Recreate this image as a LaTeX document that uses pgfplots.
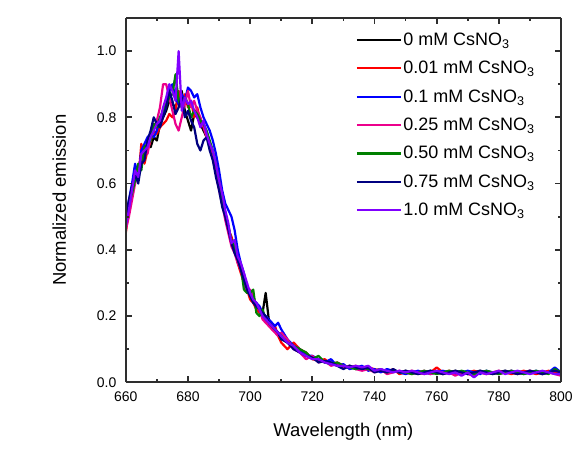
\documentclass[border=0pt]{standalone}
\usepackage{fontspec}
\setmainfont{Liberation Sans}
\usepackage{pgfplots}
\usepackage{pgfplotstable}
\pgfplotsset{compat=1.18}
\definecolor{cnavy}{RGB}{0,0,128}
\definecolor{cgreen}{RGB}{0,128,0}
\definecolor{cviolet}{RGB}{128,0,255}
\pgfplotstableread{
x k r b m g n v
660 0.47 0.45 0.49 0.46 0.48 0.50 0.47
661 0.53 0.52 0.55 0.50 0.54 0.55 0.52
662 0.58 0.56 0.60 0.55 0.57 0.59 0.58
663 0.62 0.65 0.66 0.60 0.61 0.63 0.64
664 0.63 0.61 0.62 0.65 0.66 0.60 0.62
665 0.67 0.72 0.70 0.68 0.64 0.66 0.69
666 0.68 0.66 0.72 0.70 0.71 0.67 0.70
667 0.72 0.70 0.74 0.69 0.72 0.73 0.71
668 0.71 0.73 0.75 0.74 0.73 0.76 0.74
669 0.74 0.76 0.74 0.77 0.78 0.80 0.76
670 0.73 0.75 0.76 0.79 0.77 0.78 0.78
671 0.78 0.77 0.80 0.83 0.80 0.77 0.79
672 0.80 0.78 0.81 0.90 0.82 0.80 0.83
673 0.82 0.79 0.84 0.90 0.84 0.83 0.86
674 0.85 0.81 0.88 0.86 0.86 0.88 0.90
675 0.84 0.80 0.90 0.82 0.87 0.85 0.88
676 0.83 0.82 0.86 0.78 0.93 0.81 0.85
677 0.86 0.88 0.84 0.76 0.85 0.83 1.00
678 0.88 0.84 0.87 0.80 0.83 0.86 0.82
679 0.82 0.87 0.85 0.84 0.86 0.80 0.86
680 0.79 0.83 0.89 0.88 0.84 0.82 0.84
681 0.76 0.85 0.88 0.83 0.80 0.79 0.85
682 0.81 0.80 0.86 0.85 0.82 0.77 0.82
683 0.80 0.83 0.87 0.82 0.81 0.72 0.80
684 0.78 0.79 0.83 0.80 0.79 0.70 0.77
685 0.76 0.78 0.80 0.77 0.78 0.73 0.79
686 0.74 0.75 0.78 0.74 0.76 0.74 0.75
687 0.72 0.71 0.76 0.72 0.73 0.70 0.72
688 0.68 0.69 0.73 0.68 0.70 0.67 0.70
689 0.64 0.65 0.69 0.63 0.66 0.62 0.66
690 0.60 0.59 0.64 0.58 0.61 0.58 0.61
691 0.55 0.55 0.58 0.54 0.56 0.53 0.57
692 0.51 0.50 0.54 0.49 0.51 0.50 0.52
693 0.47 0.46 0.52 0.45 0.47 0.46 0.48
694 0.43 0.44 0.50 0.41 0.43 0.42 0.42
695 0.42 0.40 0.46 0.39 0.41 0.39 0.43
696 0.38 0.36 0.40 0.36 0.37 0.37 0.38
697 0.35 0.33 0.36 0.34 0.35 0.34 0.36
698 0.31 0.30 0.33 0.30 0.28 0.31 0.33
699 0.28 0.28 0.29 0.27 0.27 0.28 0.30
700 0.26 0.25 0.27 0.28 0.27 0.26 0.27
701 0.25 0.24 0.25 0.26 0.28 0.24 0.25
702 0.23 0.22 0.24 0.23 0.21 0.23 0.24
703 0.22 0.21 0.23 0.22 0.20 0.22 0.22
704 0.21 0.20 0.21 0.19 0.22 0.21 0.20
705 0.27 0.19 0.20 0.18 0.19 0.20 0.19
706 0.19 0.18 0.19 0.17 0.18 0.18 0.18
707 0.17 0.16 0.18 0.16 0.17 0.17 0.17
708 0.16 0.17 0.17 0.15 0.16 0.16 0.16
709 0.15 0.14 0.18 0.14 0.15 0.15 0.15
710 0.14 0.12 0.16 0.15 0.14 0.13 0.14
712 0.12 0.10 0.13 0.13 0.12 0.12 0.12
714 0.11 0.12 0.11 0.10 0.11 0.10 0.11
716 0.09 0.10 0.10 0.09 0.10 0.09 0.09
718 0.085 0.09 0.08 0.07 0.09 0.08 0.08
720 0.075 0.07 0.08 0.08 0.07 0.075 0.07
722 0.07 0.065 0.07 0.06 0.08 0.06 0.07
724 0.06 0.07 0.06 0.065 0.06 0.065 0.06
726 0.06 0.055 0.07 0.05 0.055 0.06 0.055
728 0.05 0.06 0.05 0.055 0.06 0.05 0.05
730 0.045 0.05 0.055 0.045 0.05 0.04 0.05
732 0.05 0.045 0.04 0.05 0.045 0.05 0.045
734 0.04 0.05 0.045 0.04 0.04 0.045 0.05
736 0.045 0.04 0.05 0.035 0.045 0.04 0.045
738 0.04 0.045 0.035 0.04 0.04 0.045 0.05
740 0.035 0.04 0.04 0.03 0.035 0.03 0.035
742 0.04 0.035 0.03 0.04 0.04 0.035 0.04
744 0.03 0.03 0.04 0.025 0.03 0.03 0.035
746 0.035 0.04 0.035 0.03 0.035 0.04 0.03
748 0.03 0.025 0.03 0.035 0.03 0.03 0.035
750 0.035 0.03 0.025 0.03 0.03 0.035 0.03
752 0.03 0.035 0.03 0.025 0.025 0.03 0.035
754 0.025 0.03 0.035 0.03 0.03 0.025 0.03
756 0.03 0.025 0.03 0.035 0.035 0.03 0.025
758 0.035 0.03 0.025 0.025 0.03 0.035 0.03
760 0.03 0.045 0.03 0.03 0.025 0.03 0.035
762 0.025 0.03 0.035 0.025 0.03 0.025 0.03
764 0.03 0.035 0.03 0.03 0.035 0.03 0.025
766 0.035 0.03 0.025 0.02 0.03 0.035 0.03
768 0.03 0.025 0.03 0.03 0.035 0.03 0.02
770 0.025 0.03 0.035 0.025 0.03 0.025 0.03
772 0.03 0.035 0.03 0.02 0.025 0.03 0.015
774 0.035 0.03 0.025 0.03 0.03 0.035 0.03
776 0.03 0.025 0.035 0.025 0.035 0.03 0.025
778 0.025 0.03 0.03 0.03 0.03 0.025 0.03
780 0.03 0.035 0.025 0.025 0.025 0.03 0.035
782 0.035 0.03 0.03 0.03 0.03 0.035 0.025
784 0.03 0.025 0.035 0.035 0.035 0.03 0.03
786 0.025 0.03 0.03 0.025 0.03 0.025 0.035
788 0.03 0.035 0.025 0.03 0.025 0.03 0.03
790 0.035 0.03 0.03 0.035 0.03 0.035 0.025
792 0.03 0.025 0.035 0.03 0.035 0.03 0.03
794 0.025 0.03 0.025 0.025 0.03 0.025 0.035
796 0.03 0.035 0.03 0.03 0.025 0.03 0.03
798 0.035 0.03 0.045 0.025 0.04 0.035 0.025
800 0.03 0.025 0.03 0.02 0.03 0.03 0.025
}\spectra
\begin{document}
\begin{tikzpicture}
\begin{axis}[
  name=main,
  scale only axis,
  width=436bp, height=365bp,
  xmin=660, xmax=800, ymin=0, ymax=1.1,
  axis line style={draw=none},
  xtick={660,680,...,800},
  ytick={0,0.2,...,1.0},
  yticklabel style={/pgf/number format/fixed,/pgf/number format/fixed zerofill,/pgf/number format/precision=1, xshift=-6bp},
  xticklabel style={yshift=-6bp},
  /pgf/number format/assume math mode=true,
  tick label style={font=\fontsize{14bp}{16bp}\selectfont},
  tick style={draw=none},
  xlabel={Wavelength (nm)},
  ylabel={Normalized emission},
  label style={font=\fontsize{18.5bp}{20bp}\selectfont},
  xlabel style={yshift=-15bp},
  ylabel style={yshift=24bp},
  legend cell align=left,
  legend style={draw=none, fill=none, at={(rel axis cs:0.528,0.964)}, anchor=north west,
    font=\fontsize{18bp}{20bp}\selectfont, row sep=11.4bp, inner sep=0pt,
    nodes={inner sep=1.5bp}},
  legend image code/.code={\draw[#1] (0cm,0cm) -- (1.55cm,0cm);},
  every axis plot/.append style={line width=2.2bp, line join=round},
]
\addplot[black] table[x=x,y=k] {\spectra};
\addlegendentry{0 mM CsNO\textsubscript{3}}
\addplot[red] table[x=x,y=r] {\spectra};
\addlegendentry{0.01 mM CsNO\textsubscript{3}}
\addplot[blue] table[x=x,y=b] {\spectra};
\addlegendentry{0.1 mM CsNO\textsubscript{3}}
\addplot[magenta] table[x=x,y=m] {\spectra};
\addlegendentry{0.25 mM CsNO\textsubscript{3}}
\addplot[cgreen] table[x=x,y=g] {\spectra};
\addlegendentry{0.50 mM CsNO\textsubscript{3}}
\addplot[cnavy] table[x=x,y=n] {\spectra};
\addlegendentry{0.75 mM CsNO\textsubscript{3}}
\addplot[cviolet] table[x=x,y=v] {\spectra};
\addlegendentry{1.0 mM CsNO\textsubscript{3}}
\end{axis}
% frame and ticks drawn on top of the axis
\foreach \i in {0,2,...,14}{
  \pgfmathsetmacro{\xx}{\i*436/14}
  \draw[black!82, line width=1.8bp] ([xshift=\xx bp]main.south west) -- ++(0,6.5bp);
  \draw[black!82, line width=1.8bp] ([xshift=\xx bp]main.north west) -- ++(0,-6.5bp);
}
\foreach \i in {1,3,...,13}{
  \pgfmathsetmacro{\xx}{\i*436/14}
  \draw[black!82, line width=1.8bp] ([xshift=\xx bp]main.south west) -- ++(0,3.5bp);
  \draw[black!82, line width=1.8bp] ([xshift=\xx bp]main.north west) -- ++(0,-3.5bp);
}
\foreach \i in {0,2,...,10}{
  \pgfmathsetmacro{\yy}{\i*365/11}
  \draw[black!82, line width=1.8bp] ([yshift=\yy bp]main.south west) -- ++(6.5bp,0);
  \draw[black!82, line width=1.8bp] ([yshift=\yy bp]main.south east) -- ++(-6.5bp,0);
}
\foreach \i in {1,3,...,9}{
  \pgfmathsetmacro{\yy}{\i*365/11}
  \draw[black!82, line width=1.8bp] ([yshift=\yy bp]main.south west) -- ++(3.5bp,0);
  \draw[black!82, line width=1.8bp] ([yshift=\yy bp]main.south east) -- ++(-3.5bp,0);
}
\draw[black!82, line width=2bp] (main.south west) -- (main.south east);
\draw[black!82, line width=2bp] (main.south east) -- (main.north east);
\draw[black!82, line width=2bp] (main.north east) -- (main.north west);
\draw[black!82, line width=2bp] (main.north west) -- (main.south west);
\path[use as bounding box] ([shift={(-126bp,-75bp)}]main.south west) rectangle ([shift={(14bp,18bp)}]main.north east);
\end{tikzpicture}
\end{document}
